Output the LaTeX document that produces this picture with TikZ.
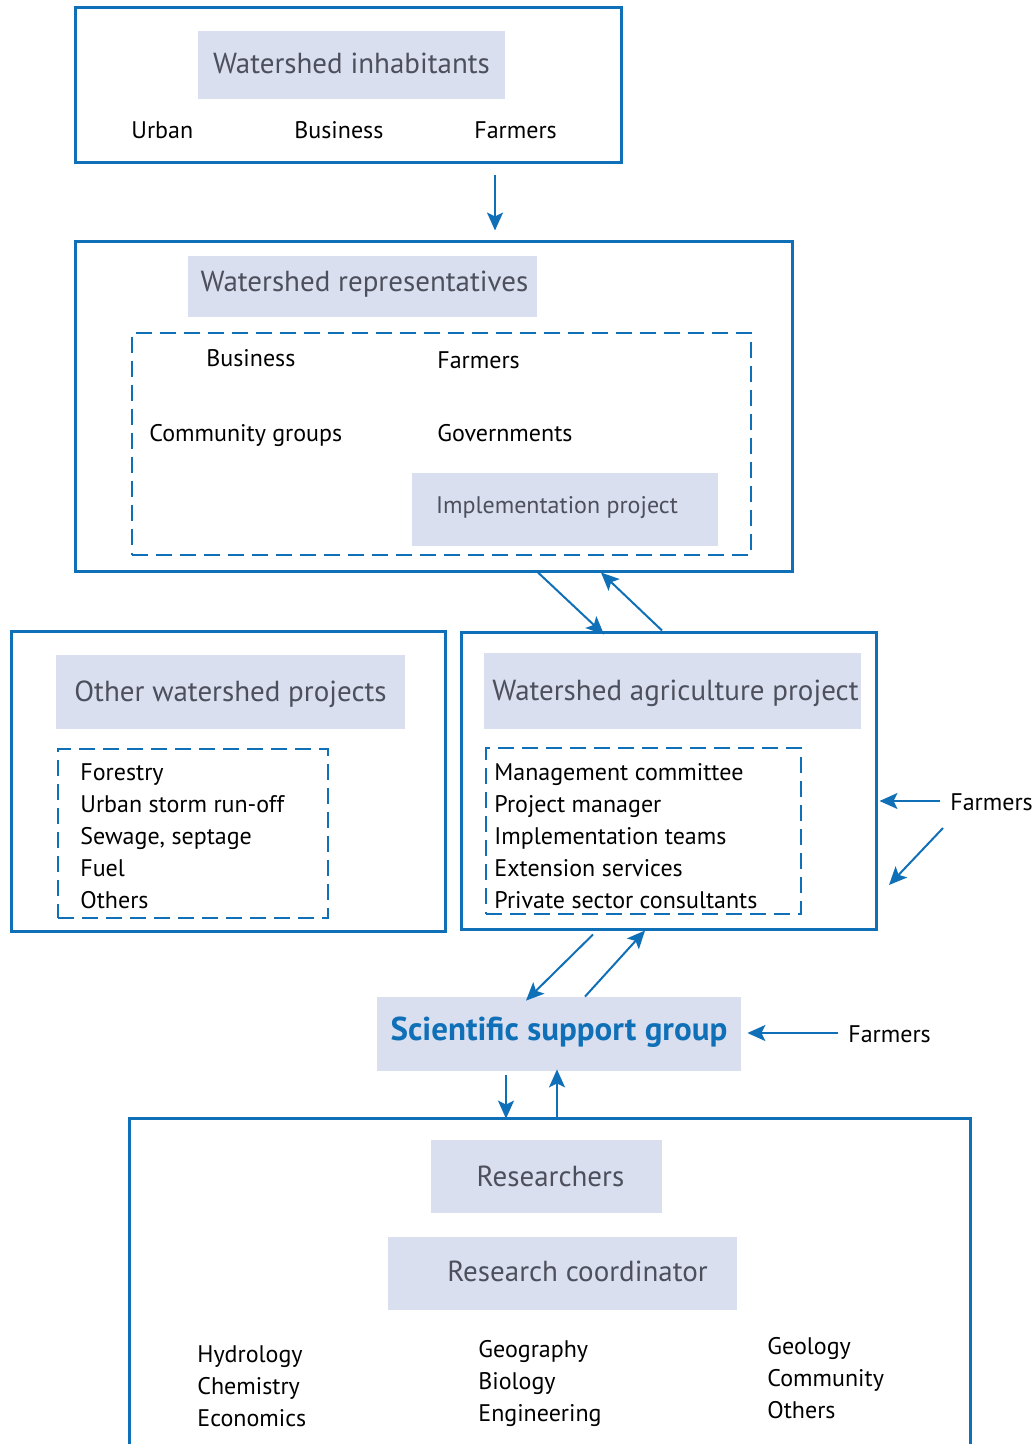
\documentclass[tikz,border=0pt]{standalone}
\usepackage{fontspec}
\setmainfont{PT Sans}
\usetikzlibrary{arrows.meta}
\usetikzlibrary{fit}
\usetikzlibrary{positioning}
\definecolor{wsblue}{RGB}{16,112,183}
\definecolor{wsfill}{RGB}{218,223,240}
\definecolor{wsgray}{RGB}{77,80,92}
\tikzset{
  bluebox/.style={draw=wsblue, line width=1.5pt, inner sep=0pt},
  dashbox/.style={draw=wsblue, line width=1.1pt, dash pattern=on 8pt off 4pt, inner sep=0pt},
  hdr/.style={fill=wsfill, inner sep=0pt},
  hdrtxt/.style={inner sep=0pt, text=wsgray, font=\fontsize{14.5}{17}\selectfont},
  item/.style={inner sep=0pt, anchor=west, yshift=-1.5pt, text height=8.5pt, text depth=2.5pt, font=\fontsize{12}{14}\selectfont},
  arr/.style={draw=wsblue, line width=1pt, -{Stealth[length=9pt,width=8pt,inset=2pt]}},
}
\begin{document}
\begin{tikzpicture}[x=0.5pt,y=-0.5pt]
\useasboundingbox (0,0) rectangle (1033,1444);
% boxes
\node[bluebox, fit={(75,8) (621,163)}] (inhab) {};
\node[bluebox, fit={(75,242) (792,571)}] (rep) {};
\node[bluebox, fit={(11,631) (445,931)}] (other) {};
\node[bluebox, fit={(461,632) (876,929)}] (agri) {};
\node[inner sep=0pt, fit={(130,1119) (970,1444)}] (res) {};
\draw[bluebox] (res.south west) -- (res.north west) -- (res.north east) -- (res.south east);
\node[dashbox, fit={(132,333) (751,555)}] (repd) {};
\node[dashbox, fit={(58,749) (328,918)}] (otherd) {};
\node[dashbox, fit={(486,748) (801,914)}] (agrid) {};
% headings
\node[hdr, fit={(198,31) (505,99)}, label={[hdrtxt, yshift=1pt]center:Watershed inhabitants}] (inhabh) {};
\node[hdr, fit={(188,256) (537,317)}, label={[hdrtxt, xshift=1pt, yshift=1pt]center:Watershed representatives}] (reph) {};
\node[hdr, fit={(412,473) (718,546)}, label={[hdrtxt, xshift=-4pt, yshift=1pt, font=\fontsize{12}{14}\selectfont]center:Implementation project}] (imp) {};
\node[hdr, fit={(56,655) (405,729)}, label={[hdrtxt, yshift=-1pt]center:Other watershed projects}] (otherh) {};
\node[hdr, fit={(484,653) (861,729)}, label={[hdrtxt, xshift=1.5pt, yshift=-1pt]center:Watershed agriculture project}] (agrih) {};
\node[hdr, fit={(377,997) (741,1071)}, label={[inner sep=0pt, text=wsblue, font=\fontsize{16.5}{19}\bfseries, yshift=1pt]center:Scientific support group}] (ssg) {};
\node[hdr, fit={(431,1140) (662,1213)}, label={[hdrtxt, xshift=2pt]center:Researchers}] (resh) {};
\node[hdr, fit={(388,1237) (737,1310)}, label={[hdrtxt, xshift=7.5pt, yshift=1pt]center:Research coordinator}] (rc) {};
% items
\node[item] (urb) at (131,130) {Urban};
\node[item] (bus) at (294,130) {Business};
\node[item] (farm) at (474,130) {Farmers};
\node[item] (rbus) at (206,357) {Business};
\node[item] (rfarm) at (437,360) {Farmers};
\node[item] (rcom) at (149,432) {Community groups};
\node[item] (rgov) at (437,432) {Governments};
\foreach \t [count=\i from 0] in {Forestry, Urban storm run-off, {Sewage, septage}, Fuel, Others}
  \node[item] (oth\i) at (80,771+32*\i) {\t};
\foreach \t [count=\i from 0] in {Management committee, Project manager, Implementation teams, Extension services, Private sector consultants}
  \node[item] (ag\i) at (494,771+32*\i) {\t};
\node[item] (f1) at (950,801) {Farmers};
\node[item] (f2) at (848,1033) {Farmers};
\foreach \t [count=\i from 0] in {Hydrology, Chemistry, Economics}
  \node[item] (ra\i) at (197,1353+32*\i) {\t};
\foreach \t [count=\i from 0] in {Geography, Biology, Engineering}
  \node[item] (rb\i) at (478,1348+32*\i) {\t};
\foreach \t [count=\i from 0] in {Geology, Community, Others}
  \node[item] (rcc\i) at (767,1345+32*\i) {\t};
% connectors
\coordinate (a1) at (495,175);
\draw[arr] (a1) -- ([yshift=5pt]a1 |- rep.north);
\draw[arr] ([xshift=52.25pt]rep.south) -- ([xshift=-32.25pt,yshift=-2pt]agri.north);
\draw[arr] ([xshift=-3.25pt]agri.north) -- ([xshift=83.75pt]rep.south);
\draw[arr] ([xshift=-5pt,yshift=1.5pt]f1.west) -- ([xshift=1pt,yshift=1.5pt]f1.west -| agri.east);
\coordinate (f1d) at (943,828);
\draw[arr] (f1d) -- (889,885);
\draw[arr] ([xshift=-37.75pt,yshift=-2pt]agri.south) -- ([xshift=-16.5pt,yshift=-2pt]ssg.north);
\draw[arr] ([xshift=13pt]ssg.north) -- ([xshift=-11.75pt]agri.south);
\draw[arr] ([xshift=-5pt,yshift=1.5pt]f2.west) -- ([xshift=3pt,yshift=1.5pt]f2.west -| ssg.east);
\draw[arr] ([xshift=-26.5pt,yshift=-2pt]ssg.south) -- ([xshift=-26.5pt]ssg.south |- res.north);
\draw[arr] ([xshift=-1pt,yshift=1pt]ssg.south |- res.north) -- ([xshift=-1pt,yshift=1pt]ssg.south);
\end{tikzpicture}
\end{document}
